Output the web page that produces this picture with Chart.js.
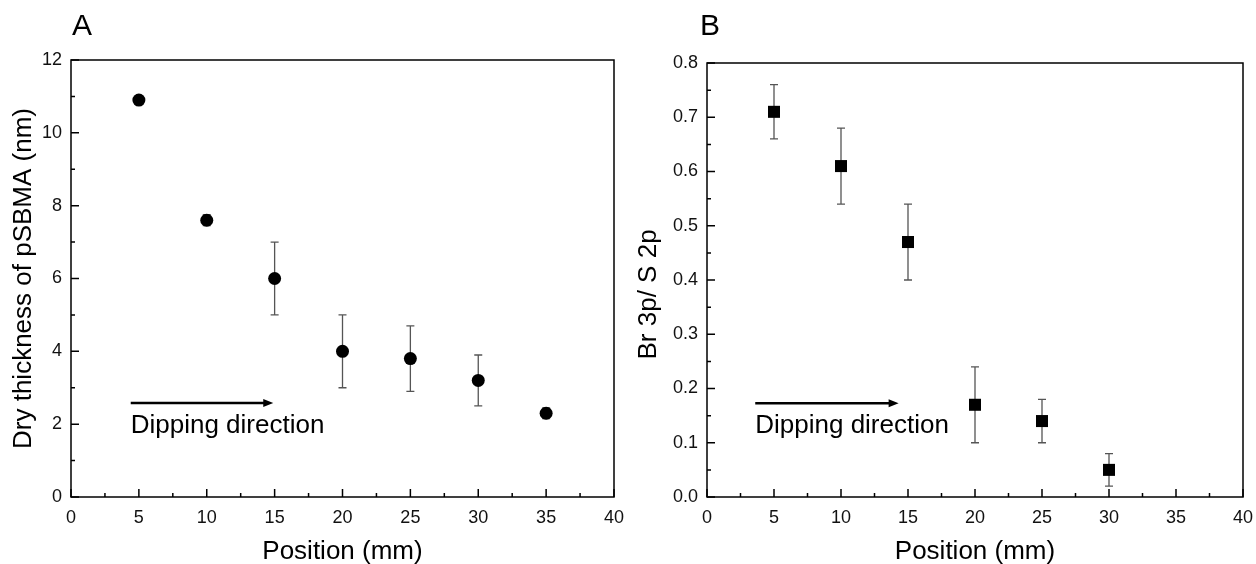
<!DOCTYPE html>
<html>
<head>
<meta charset="utf-8">
<script src="https://cdn.jsdelivr.net/npm/chart.js@4.4.1/dist/chart.umd.min.js"></script>
<style>
  body { margin: 0; background: #fff; }
  #wrap { position: relative; width: 1256px; height: 564px; }
  canvas { position: absolute; top: 0; }
</style>
</head>
<body>
<div id="wrap">
  <canvas id="chartA" width="628" height="564" style="left:0"></canvas>
  <canvas id="chartB" width="628" height="564" style="left:628px"></canvas>
</div>
<script>
// panel A - dry thickness
const positionsA = [5, 10, 15, 20, 25, 30, 35];
const thickness = [10.9, 7.6, 6.0, 4.0, 3.8, 3.2, 2.3];
const thicknessErr = [0.1, 0.15, 1.0, 1.0, 0.9, 0.7, 0.15];

// panel B - Br 3p / S 2p ratio
const positionsB = [5, 10, 15, 20, 25, 30];
const ratio = [0.71, 0.61, 0.47, 0.17, 0.14, 0.05];
const ratioErr = [0.05, 0.07, 0.07, 0.07, 0.04, 0.03];

const FONT = "'Liberation Sans', Arial, sans-serif";

// draws frame, inward ticks, error bars, arrow + label, panel letter
const decorPlugin = {
  id: "decor",
  beforeDatasetsDraw(chart, args, opts) {
    const ctx = chart.ctx;
    const xs = chart.scales.x, ys = chart.scales.y;
    const ds = chart.data.datasets[0];
    ctx.save();
    ctx.strokeStyle = "#555";
    ctx.lineWidth = 1.3;
    ds.data.forEach((p, i) => {
      const e = opts.errors[i];
      const px = xs.getPixelForValue(p.x);
      const top = ys.getPixelForValue(p.y + e);
      const bot = ys.getPixelForValue(p.y - e);
      ctx.beginPath();
      ctx.moveTo(px, top); ctx.lineTo(px, bot);
      ctx.moveTo(px - 4, top); ctx.lineTo(px + 4, top);
      ctx.moveTo(px - 4, bot); ctx.lineTo(px + 4, bot);
      ctx.stroke();
    });
    ctx.restore();
  },
  afterDraw(chart, args, opts) {
    const ctx = chart.ctx;
    const a = chart.chartArea;
    const xs = chart.scales.x, ys = chart.scales.y;
    ctx.save();
    ctx.strokeStyle = "#000";
    ctx.lineWidth = 1.5;
    ctx.strokeRect(a.left, a.top, a.right - a.left, a.bottom - a.top);

    // ticks pointing inward
    ctx.beginPath();
    const xt = xs.ticks.map(t => t.value);
    xt.forEach((v, i) => {
      const px = xs.getPixelForValue(v);
      ctx.moveTo(px, a.bottom); ctx.lineTo(px, a.bottom - 8);
      if (i < xt.length - 1) {
        const mx = xs.getPixelForValue((v + xt[i + 1]) / 2);
        ctx.moveTo(mx, a.bottom); ctx.lineTo(mx, a.bottom - 4);
      }
    });
    const yt = ys.ticks.map(t => t.value);
    yt.forEach((v, i) => {
      const py = ys.getPixelForValue(v);
      ctx.moveTo(a.left, py); ctx.lineTo(a.left + 8, py);
      if (i < yt.length - 1) {
        const my = ys.getPixelForValue((v + yt[i + 1]) / 2);
        ctx.moveTo(a.left, my); ctx.lineTo(a.left + 4, my);
      }
    });
    ctx.stroke();

    // dipping direction arrow
    const x0 = xs.getPixelForValue(opts.arrow[0]);
    const x1 = xs.getPixelForValue(opts.arrow[1]);
    const y0 = ys.getPixelForValue(opts.arrow[2]);
    ctx.lineWidth = 2.5;
    ctx.beginPath();
    ctx.moveTo(x0, y0); ctx.lineTo(x1 - 8, y0);
    ctx.stroke();
    ctx.fillStyle = "#000";
    ctx.beginPath();
    ctx.moveTo(x1, y0); ctx.lineTo(x1 - 10, y0 - 4); ctx.lineTo(x1 - 10, y0 + 4);
    ctx.closePath();
    ctx.fill();
    ctx.font = "26px " + FONT;
    ctx.textBaseline = "alphabetic";
    ctx.textAlign = "left";
    ctx.fillText("Dipping direction", x0, y0 + 30);

    // panel letter
    ctx.font = "30px " + FONT;
    ctx.fillText(opts.letter, a.left + opts.letterDx, 35);
    ctx.restore();
  }
};

function makeChart(id, xs, ys, errs, opt) {
  return new Chart(document.getElementById(id), {
    type: "scatter",
    data: {
      datasets: [{
        data: xs.map((x, i) => ({ x: x, y: ys[i] })),
        pointStyle: opt.pointStyle,
        pointRadius: opt.pointRadius,
        pointHoverRadius: opt.pointRadius,
        backgroundColor: "#000",
        borderColor: "#000",
        borderWidth: 0
      }]
    },
    options: {
      responsive: false,
      animation: false,
      devicePixelRatio: 1,
      layout: { padding: opt.padding },
      scales: {
        x: {
          type: "linear",
          min: 0, max: 40,
          ticks: { stepSize: 5, padding: 10, color: "#111", font: { family: FONT, size: 18 } },
          grid: { display: false, drawTicks: false },
          border: { display: false },
          title: { display: true, text: "Position (mm)", color: "#000", font: { family: FONT, size: 26 }, padding: { top: 0, bottom: -3 } },
          afterFit(s) { s.height = 67; s.paddingLeft = 0; s.paddingRight = 0; }
        },
        y: {
          min: opt.yMin, max: opt.yMax,
          ticks: {
            stepSize: opt.yStep, padding: 9, color: "#111", font: { family: FONT, size: 18 },
            callback: opt.yFmt
          },
          grid: { display: false, drawTicks: false },
          border: { display: false },
          title: { display: true, text: opt.yTitle, color: "#000", font: { family: FONT, size: 26 }, padding: { top: opt.yTitlePad, bottom: 0 } },
          afterFit(s) { s.width = opt.yWidth; s.paddingTop = 0; s.paddingBottom = 0; }
        }
      },
      plugins: {
        legend: { display: false },
        tooltip: { enabled: false },
        decor: { errors: errs, arrow: opt.arrow, letter: opt.letter, letterDx: opt.letterDx }
      }
    },
    plugins: [decorPlugin]
  });
}

makeChart("chartA", positionsA, thickness, thicknessErr, {
  pointStyle: "circle", pointRadius: 6.5,
  padding: { left: 0, right: 14, top: 60, bottom: 0 },
  yMin: 0, yMax: 12, yStep: 2, yFmt: v => v,
  yTitle: "Dry thickness of pSBMA (nm)", yTitlePad: 8, yWidth: 71,
  arrow: [4.4, 14.9, 2.58], letter: "A", letterDx: 1
});

makeChart("chartB", positionsB, ratio, ratioErr, {
  pointStyle: "rect", pointRadius: 8.5,
  padding: { left: 0, right: 13, top: 63, bottom: 0 },
  yMin: 0, yMax: 0.8, yStep: 0.1, yFmt: v => v.toFixed(1),
  yTitle: "Br 3p/ S 2p    ", yTitlePad: 5, yWidth: 79,
  arrow: [3.6, 14.3, 0.173], letter: "B", letterDx: -7
});
</script>
</body>
</html>
